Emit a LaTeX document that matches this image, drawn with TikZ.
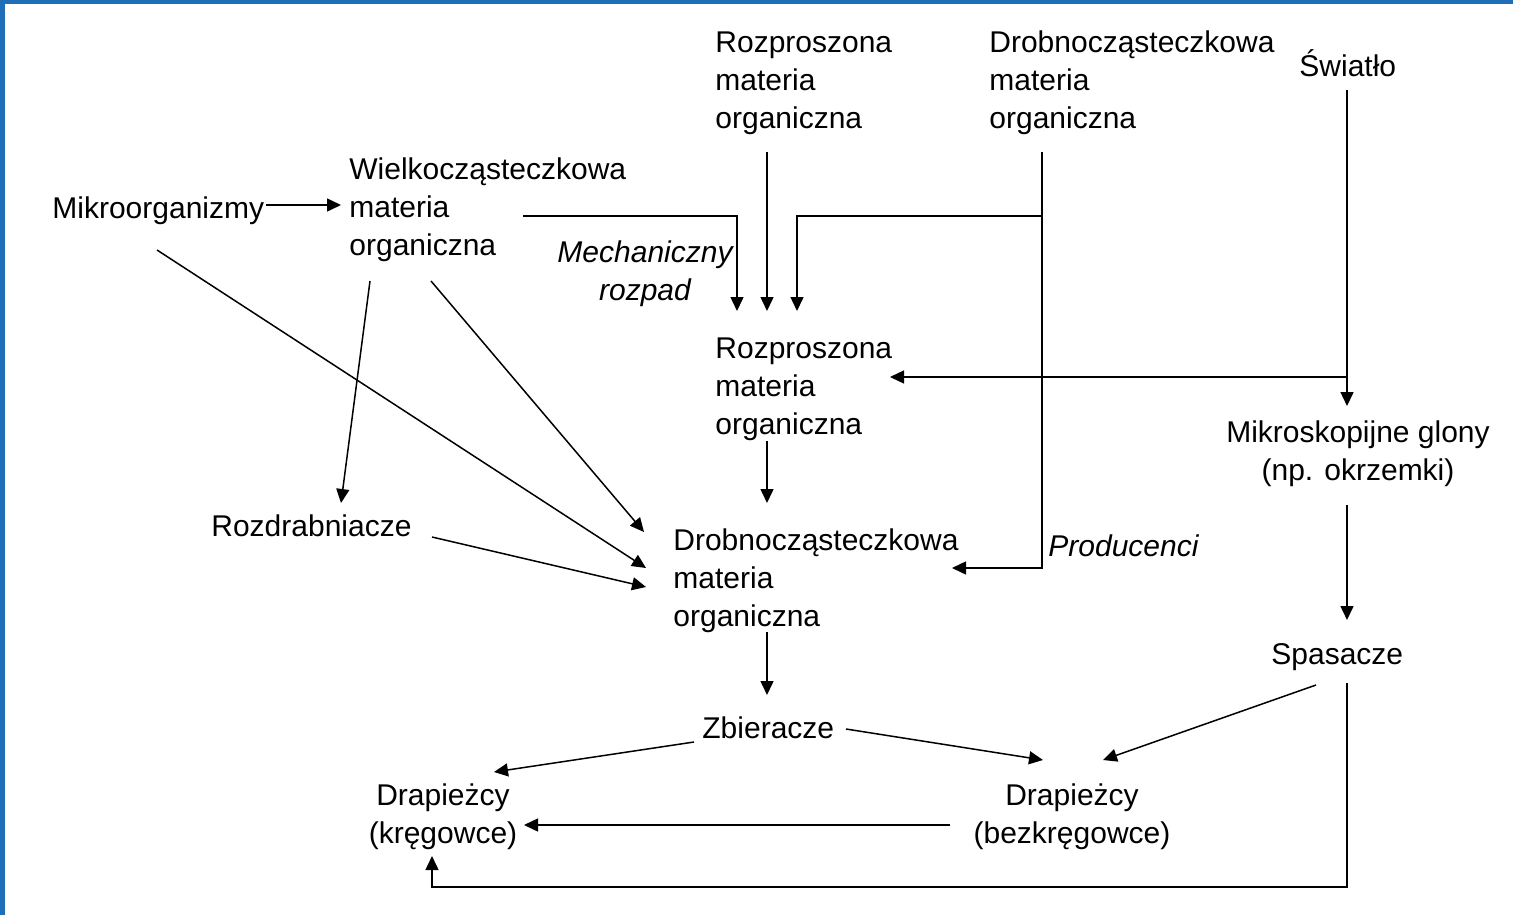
\documentclass[tikz,border=0pt]{standalone}
\usepackage{fontspec}
\setmainfont{Liberation Sans}
\usepackage{xcolor}
\usetikzlibrary{arrows.meta}
\definecolor{ramka}{HTML}{1E6FB8}

\tikzset{
  lbl/.style={anchor=base west, align=left, inner sep=0pt, font=\fontsize{15}{19}\selectfont},
  lblc/.style={anchor=base, align=center, inner sep=0pt, font=\fontsize{15}{19}\selectfont},
  strz/.style={-{Triangle[length=7pt,width=6.5pt]}, line width=0.75pt},
  lin/.style={line width=0.75pt}
}

\begin{document}
\begin{tikzpicture}[x=0.5pt,y=-0.5pt]
	\useasboundingbox (0,0) rectangle (1513,915);
	% ramka
	\fill [ramka](0,0) rectangle (1513,4);
	\fill [ramka](0,0) rectangle (5,915);
	% wezly (base = ostatnia linia)
	\node [lbl] (rozTop) at (715,128) {Rozproszona\\materia\\organiczna};
	\node [lbl] (drobTop) at (989,128) {Drobnocząsteczkowa\\materia\\organiczna};
	\node [lbl] (swiatlo) at (1299,76) {Światło};
	\node [lbl] (wielko) at (349,255) {Wielkocząsteczkowa\\materia\\organiczna};
	\node [lbl] (mikro) at (52,218) {Mikroorganizmy};
	\node [lblc, font=\fontsize{15}{19}\selectfont\itshape] (mech) at (645,300) {Mechaniczny\\rozpad};
	\node [lbl] (rozMid) at (715,434) {Rozproszona\\materia\\organiczna};
	\node [lblc] (glony) at (1358,480) {Mikroskopijne glony\\(np. okrzemki)};
	\node [lbl] (rozdr) at (211,536) {Rozdrabniacze};
	\node [lbl] (drobMid) at (673,626) {Drobnocząsteczkowa\\materia\\organiczna};
	\node [lbl, font=\fontsize{15}{19}\selectfont\itshape] (prod) at (1048,556) {Producenci};
	\node [lbl] (spas) at (1271,664) {Spasacze};
	\node [lbl] (zbier) at (702,738) {Zbieracze};
	\node [lblc] (drapK) at (443,843) {Drapieżcy\\(kręgowce)};
	\node [lblc] (drapB) at (1072,843) {Drapieżcy\\(bezkręgowce)};
	% punkty
	\coordinate (mikroOut) at (266,205);
	\coordinate (wielkoIn) at (341,205);
	\coordinate (wielkoOut) at (523,216);
	\coordinate (wielkoRoz) at (370,281);
	\coordinate (wielkoDrob) at (431,281);
	\coordinate (mikroDrob) at (157,250);
	\coordinate (rozTopOut) at (767,152);
	\coordinate (drobTopOut) at (1042,152);
	\coordinate (drobTopSplit) at (1042,216);
	\coordinate (rozMidIn1) at (737,311);
	\coordinate (rozMidIn2) at (767,311);
	\coordinate (rozMidIn3) at (797,311);
	\coordinate (rozMidIn4) at (890,377);
	\coordinate (rozMidOut) at (767,441);
	\coordinate (swiatloOut) at (1347,90);
	\coordinate (swiatloSplit) at (1347,377);
	\coordinate (glonyIn) at (1347,406);
	\coordinate (glonyOut) at (1347,505);
	\coordinate (spasIn) at (1347,620);
	\coordinate (rozdrIn) at (341,503);
	\coordinate (rozdrOut) at (432,537);
	\coordinate (drobMidIn1) at (644,532);
	\coordinate (drobMidIn2) at (646,568);
	\coordinate (drobMidIn3) at (646,587);
	\coordinate (drobMidIn4) at (767,503);
	\coordinate (drobMidIn5) at (952,568);
	\coordinate (drobMidOut) at (767,632);
	\coordinate (zbierIn) at (767,695);
	\coordinate (zbierOutL) at (694,742);
	\coordinate (zbierOutR) at (846,729);
	\coordinate (spasOut1) at (1316,685);
	\coordinate (spasOut2) at (1347,683);
	\coordinate (drapKIn1) at (494,772);
	\coordinate (drapKIn2) at (524,825);
	\coordinate (drapKIn3) at (432,856);
	\coordinate (drapBIn1) at (1043,760);
	\coordinate (drapBIn2) at (1103,760);
	\coordinate (drapBOut) at (950,825);
	% strzalki
	\draw [strz](mikroOut) -- (wielkoIn);
	\draw [strz](wielkoOut) -| (rozMidIn1);
	\draw [strz](rozTopOut) -- (rozMidIn2);
	\draw [strz](drobTopSplit) -| (rozMidIn3);
	\draw [strz](drobTopOut) |- (drobMidIn5);
	\draw [strz](swiatloOut) -- (glonyIn);
	\draw [strz](swiatloSplit) -- (rozMidIn4);
	\draw [strz](rozMidOut) -- (drobMidIn4);
	\draw [strz](glonyOut) -- (spasIn);
	\draw [strz](wielkoRoz) -- (rozdrIn);
	\draw [strz](wielkoDrob) -- (drobMidIn1);
	\draw [strz](mikroDrob) -- (drobMidIn2);
	\draw [strz](rozdrOut) -- (drobMidIn3);
	\draw [strz](drobMidOut) -- (zbierIn);
	\draw [strz](zbierOutL) -- (drapKIn1);
	\draw [strz](zbierOutR) -- (drapBIn1);
	\draw [strz](spasOut1) -- (drapBIn2);
	\draw [strz](drapBOut) -- (drapKIn2);
	\draw [strz](spasOut2) -- (1347,887) -| (drapKIn3);
\end{tikzpicture}
\end{document}
